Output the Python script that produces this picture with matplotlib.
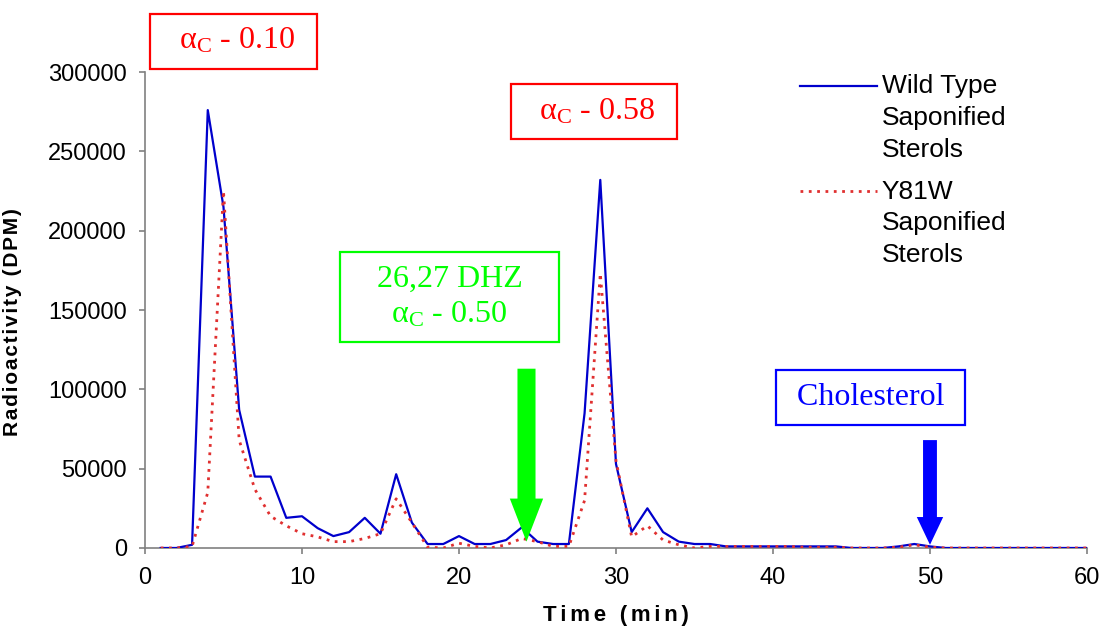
import matplotlib
matplotlib.use("Agg")
import matplotlib.pyplot as plt
from matplotlib.legend_handler import HandlerLine2D

plt.rcParams['mathtext.fontset'] = 'custom'
plt.rcParams['mathtext.rm'] = 'Liberation Serif'
plt.rcParams['mathtext.it'] = 'Liberation Serif:italic'

time = list(range(1, 61))
wild_type = [0, 0, 2000, 276000, 215000, 87000, 45000, 45000, 19000, 20000,
             12500, 7500, 10000, 19000, 9000, 46500, 16000, 2500, 2500, 7500,
             2500, 2500, 5000, 13000, 4000, 2500, 2500, 85000, 232000, 53000,
             10000, 25000, 10000, 4000, 2500, 2500, 1000, 1000, 1000, 1000,
             1000, 1000, 1000, 1000, 0, 0, 0, 1000, 2500, 1000,
             0, 0, 0, 0, 0, 0, 0, 0, 0, 0]
y81w = [0, 0, 1000, 35000, 225000, 68000, 37000, 20000, 14000, 9000,
        7000, 4000, 4000, 6000, 9000, 31000, 16000, 500, 0, 3000,
        1000, 0, 2000, 6000, 4000, 1000, 1000, 30000, 173000, 55000,
        7000, 14000, 5000, 2000, 0, 1000, 1000, 1000, 1000, 1000,
        1000, 500, 500, 500, 0, 0, 0, 500, 2000, 500,
        0, 0, 0, 0, 0, 0, 0, 0, 0, 0]
series_labels = ["Wild Type\nSaponified\nSterols", "Y81W\nSaponified\nSterols"]
xticks = [0, 10, 20, 30, 40, 50, 60]
yticks = [0, 50000, 100000, 150000, 200000, 250000, 300000]

sans = ['Liberation Sans', 'DejaVu Sans']
serif = ['Liberation Serif', 'DejaVu Serif']


def spaced(s, gap):
    # loose letter spacing like the original
    return gap.join(s)


fig = plt.figure(figsize=(11.05, 6.29), dpi=100)
ax = fig.add_axes([0.1312, 0.1288, 0.8525, 0.7567])

ax.plot(time, wild_type, color='#0000CC', lw=1.6, label=series_labels[0], zorder=3)
ax.plot(time, y81w, color='#E03030', lw=2.0, ls=(0, (1, 2)), label=series_labels[1], zorder=4)

ax.set_xlim(0, 60)
ax.set_ylim(0, 300000)
ax.set_xticks(xticks)
ax.set_yticks(yticks)
ax.set_xticklabels([str(v) for v in xticks], family=sans, fontsize=17)
ax.set_yticklabels([str(v) for v in yticks], family=sans, fontsize=17)
for s in ['top', 'right']:
    ax.spines[s].set_visible(False)
for s in ['left', 'bottom']:
    ax.spines[s].set_color('#808080')
    ax.spines[s].set_linewidth(1.2)
ax.tick_params(direction='out', length=4.5, color='#808080', width=1.2)
ax.tick_params(axis='y', pad=8.5)
ax.tick_params(axis='x', pad=9)

ax.set_xlabel(spaced('Time (min)', '\u2006'), family=sans, fontweight='bold', fontsize=16, labelpad=12)
ax.set_ylabel(spaced('Radioactivity (DPM)', '\u200a'), family=sans, fontweight='bold', fontsize=15)
ax.yaxis.set_label_coords(-0.1306, 0.475)

LEG_FS = 19
LEG_LS = 1.4


class FirstLineHandler(HandlerLine2D):
    def create_artists(self, legend, orig_handle, xdescent, ydescent,
                       width, height, fontsize, trans):
        arts = super().create_artists(legend, orig_handle, xdescent, ydescent,
                                      width, height, fontsize, trans)
        for a in arts:
            yd = a.get_ydata()
            a.set_ydata([y + 1.21 * fontsize for y in yd])
        return arts


leg = ax.legend(loc='upper left', bbox_to_anchor=(0.695, 0.995), frameon=False,
                prop={'family': sans, 'size': LEG_FS}, borderpad=0, borderaxespad=0,
                handlelength=2.92, handletextpad=0.19, labelspacing=0.68,
                handler_map={plt.Line2D: FirstLineHandler()})
for t in leg.get_texts():
    t.set_linespacing(LEG_LS)

box_kw = dict(boxstyle='square,pad=0.4', fc='white', lw=1.6)
ax.text(5.65, 319500, r'  α$_{\mathrm{C}}$ - 0.10  ', family=serif, fontsize=23, color='#FF0000',
        ha='center', va='center', bbox=dict(ec='#FF0000', **box_kw), clip_on=False)
ax.text(28.6, 275000, r'  α$_{\mathrm{C}}$ - 0.58  ', family=serif, fontsize=23, color='#FF0000',
        ha='center', va='center', bbox=dict(ec='#FF0000', **box_kw))
ax.text(19.4, 158000, '   26,27 DHZ   \n' + r'α$_{\mathrm{C}}$ - 0.50', family=serif, fontsize=23,
        color='#00FF00', ha='center', va='center', linespacing=1.25, multialignment='center',
        bbox=dict(ec='#00FF00', **box_kw))
ax.text(46.2, 95000, ' Cholesterol ', family=serif, fontsize=23, color='#0000FF',
        ha='center', va='center', bbox=dict(ec='#0000FF', **box_kw))

ax.annotate('', xy=(24.3, 4000), xytext=(24.3, 113000),
            arrowprops=dict(arrowstyle='simple,head_length=31,head_width=24,tail_width=13',
                            fc='#00FF00', ec='#00FF00', lw=0, shrinkA=0, shrinkB=0,
                            mutation_scale=1), zorder=5)
ax.annotate('', xy=(50, 2000), xytext=(50, 68000),
            arrowprops=dict(arrowstyle='simple,head_length=20,head_width=19,tail_width=10',
                            fc='#0000FF', ec='#0000FF', lw=0, shrinkA=0, shrinkB=0,
                            mutation_scale=1), zorder=5)

fig.savefig('out.png', dpi=100)
